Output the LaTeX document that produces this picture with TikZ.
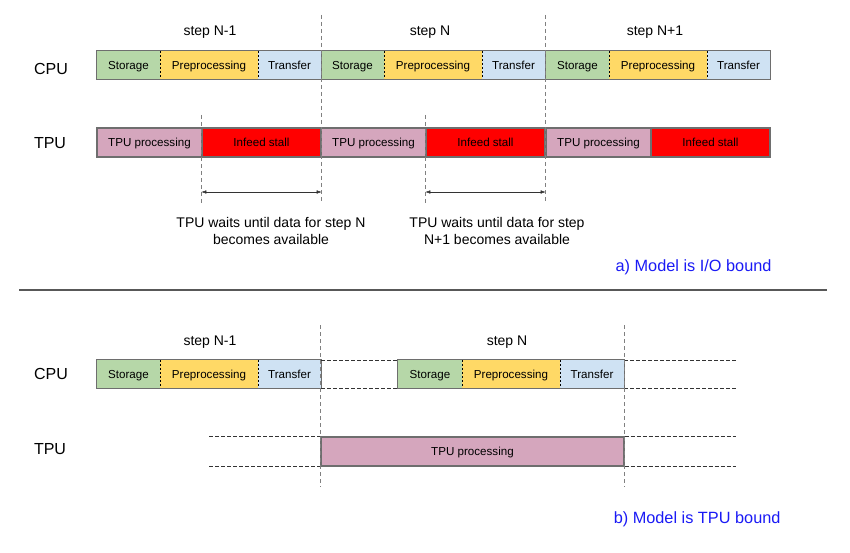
\documentclass[tikz,border=0pt]{standalone}
\usepackage{fontspec}
\setmainfont{Liberation Sans}
\usetikzlibrary{arrows.meta}
\definecolor{storagegreen}{HTML}{B6D7A8}
\definecolor{prepyellow}{HTML}{FFD966}
\definecolor{transferblue}{HTML}{CFE2F3}
\definecolor{tpupink}{HTML}{D5A6BD}
\definecolor{stallred}{HTML}{FF0000}
\definecolor{framegray}{HTML}{6E6E6E}
\definecolor{captionblue}{HTML}{1A1AF5}
\begin{document}
\begin{tikzpicture}[x=1pt, y=-1pt,
    seg/.style = {inner sep=0pt, minimum height=28pt, text height=8.4pt, text depth=0pt,
        font=\fontsize{11.6}{13}\selectfont},
    tpuseg/.style = {seg, draw=framegray, line width=1.3pt, minimum height=29pt},
    frame/.style = {draw=framegray, line width=1.3pt},
    sep/.style = {black, thin, dash pattern=on 2pt off 2pt},
    vguide/.style = {gray, thin, dash pattern=on 4pt off 3pt},
    hguide/.style = {black!80, thin, dash pattern=on 4pt off 2pt},
    unit/.style = {font=\fontsize{16}{18}\selectfont},
    steplabel/.style = {font=\fontsize{14}{16}\selectfont},
    note/.style = {align=center, font=\fontsize{14}{17}\selectfont},
    caption/.style = {anchor=east, text=captionblue, font=\fontsize{16.3}{18}\selectfont},
    wait/.style = {{Latex[length=5pt,width=3.5pt]}-{Latex[length=5pt,width=3.5pt]}, black!80}]
    \useasboundingbox (0,0) rectangle (850,553);

    % a) I/O bound
    \node[steplabel] (sa1) at (210,32) {step N-1};
    \node[steplabel] (sa2) at (430,32) {step N};
    \node[steplabel] (sa3) at (655,32) {step N+1};
    \node[unit] (cpua) at (51,69) {CPU};
    \node[unit] (tpua) at (50,143) {TPU};

    \foreach \i/\dx in {1/0, 2/224, 3/449} {
        \node[seg, fill=storagegreen, minimum width=63pt] (cs\i) at (128.5+\dx,65) {Storage};
        \node[seg, fill=prepyellow, minimum width=98pt] (cp\i) at (209+\dx,65) {Preprocessing};
        \node[seg, fill=transferblue, minimum width=63pt] (ct\i) at (289.5+\dx,65) {Transfer};
        \draw[sep] (cs\i.north east) -- (cs\i.south east);
        \draw[sep] (cp\i.north east) -- (cp\i.south east);
        \node[tpuseg, fill=tpupink, minimum width=105pt] (tp\i) at (149.5+\dx,142.5) {TPU processing};
        \node[tpuseg, fill=stallred, minimum width=119pt] (inf\i) at (261.5+\dx,142.5) {Infeed stall};
    }
    \draw[frame] (cs1.north west) rectangle (ct3.south east);
    \draw[frame] (ct1.north east) -- (ct1.south east);
    \draw[frame] (ct2.north east) -- (ct2.south east);

    \draw[vguide] (ct1.east |- 0,15) -- (ct1.east |- 0,203);
    \draw[vguide] (ct2.east |- 0,15) -- (ct2.east |- 0,203);
    \draw[vguide] (inf1.west |- 0,115) -- (inf1.west |- 0,203);
    \draw[vguide] (inf2.west |- 0,115) -- (inf2.west |- 0,203);

    \coordinate (w1s) at (inf1.west |- 0,192);
    \coordinate (w1e) at (inf1.east |- 0,192);
    \coordinate (w2s) at (inf2.west |- 0,192);
    \coordinate (w2e) at (inf2.east |- 0,192);
    \draw[wait] (w1s) -- (w1e);
    \draw[wait] (w2s) -- (w2e);
    \node[note] (n1) at (271,230.5) {TPU waits until data for step N\\becomes available};
    \node[note] (n2) at (497,230.5) {TPU waits until data for step\\N+1 becomes available};
    \node[caption] (capa) at (775,267) {a) Model is I/O bound};

    \draw[draw=framegray!80!black, line width=1.2pt] (19,290) -- (827,290);

    % b) TPU bound
    \node[steplabel] (sb1) at (210,342) {step N-1};
    \node[steplabel] (sb2) at (507,342) {step N};
    \node[unit] (cpub) at (51,374) {CPU};
    \node[unit] (tpub) at (50,449) {TPU};

    \node[seg, fill=storagegreen, minimum width=63pt] (bs1) at (128.5,374) {Storage};
    \node[seg, fill=prepyellow, minimum width=98pt] (bp1) at (209,374) {Preprocessing};
    \node[seg, fill=transferblue, minimum width=63pt] (bt1) at (289.5,374) {Transfer};
    \node[seg, fill=storagegreen, minimum width=64pt] (bs2) at (430,374) {Storage};
    \node[seg, fill=prepyellow, minimum width=98pt] (bp2) at (511,374) {Preprocessing};
    \node[seg, fill=transferblue, minimum width=64pt] (bt2) at (592,374) {Transfer};
    \foreach \i in {1,2} {
        \draw[sep] (bs\i.north east) -- (bs\i.south east);
        \draw[sep] (bp\i.north east) -- (bp\i.south east);
        \draw[frame] (bs\i.north west) rectangle (bt\i.south east);
    }
    \node[tpuseg, fill=tpupink, minimum width=303pt] (btp) at (472.5,451.5) {TPU processing};

    \coordinate (gend) at (736,0);
    \coordinate (gstart) at (209,0);
    \draw[hguide] (bt1.north east) -- (bs2.north west);
    \draw[hguide] (bt1.south east) -- (bs2.south west);
    \draw[hguide] (bt2.north east) -- (gend |- bt2.north east);
    \draw[hguide] (bt2.south east) -- (gend |- bt2.south east);
    \draw[hguide] (gstart |- btp.north west) -- (btp.north west);
    \draw[hguide] (gstart |- btp.south west) -- (btp.south west);
    \draw[hguide] (btp.north east) -- (gend |- btp.north east);
    \draw[hguide] (btp.south east) -- (gend |- btp.south east);

    \draw[vguide] (btp.west |- 0,325) -- (btp.west |- 0,487);
    \draw[vguide] (btp.east |- 0,325) -- (btp.east |- 0,487);

    \node[caption] (capb) at (784,519) {b) Model is TPU bound};
\end{tikzpicture}
\end{document}
